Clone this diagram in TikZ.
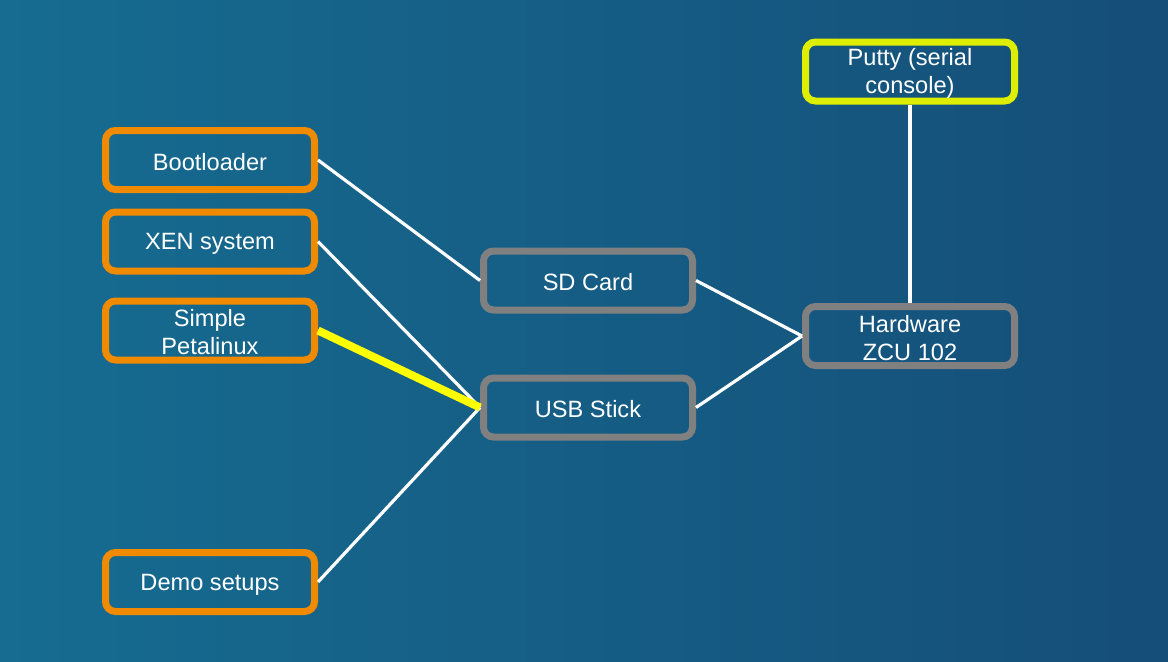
\documentclass[tikz,border=0pt]{standalone}
\usepackage{fontspec}
\setmainfont{Liberation Sans}
\definecolor{bgL}{HTML}{166C91}
\definecolor{bgR}{HTML}{154E78}
\definecolor{boxorange}{HTML}{F08A00}
\definecolor{boxgray}{HTML}{808080}
\definecolor{boxlime}{HTML}{DDEE00}
\definecolor{linkyellow}{HTML}{FFFF00}
\newcommand\toplift{\rule{0pt}{15.8pt}}
\begin{document}
\begin{tikzpicture}[x=0.75pt,y=-0.75pt,
  box/.style={rounded corners=7.5pt,line width=5.25pt,minimum width=156.75pt,minimum height=44.25pt,
    inner sep=0pt,align=center,text=white,font=\fontsize{17.7}{21}\selectfont},
  srcbox/.style={box,draw=boxorange},
  midbox/.style={box,draw=boxgray},
  limebox/.style={box,draw=boxlime},
  link/.style={draw=white,line width=2.4pt},
  hilink/.style={draw=linkyellow,line width=6pt}]
\shade[left color=bgL,right color=bgR] (0,0) rectangle (1168,661);
\useasboundingbox (0,0) rectangle (1168,661);
\node[srcbox] (boot) at (210,160) {\toplift Bootloader};
\node[srcbox] (xen) at (210,241.5) {\toplift XEN system};
\node[srcbox] (peta) at (210,330.5) {\toplift Simple\\Petalinux};
\node[srcbox] (demo) at (210,582) {\toplift Demo setups};
\node[midbox] (sd) at (588,280.5) {\toplift SD Card};
\node[midbox] (usb) at (588,407.5) {\toplift USB Stick};
\node[midbox] (hw) at (910,336) {\toplift Hardware\\ZCU 102};
\node[limebox] (putty) at (910,71.5) {\toplift Putty (serial\\console)};
\draw[link] (boot.east) -- (sd.west);
\draw[link] (xen.east) -- (usb.west);
\draw[link] (demo.east) -- (usb.west);
\draw[hilink] (peta.east) -- (usb.west);
\draw[link] (sd.east) -- (hw.west);
\draw[link] (usb.east) -- (hw.west);
\draw[link] (putty.south) -- (hw.north);
\end{tikzpicture}
\end{document}
